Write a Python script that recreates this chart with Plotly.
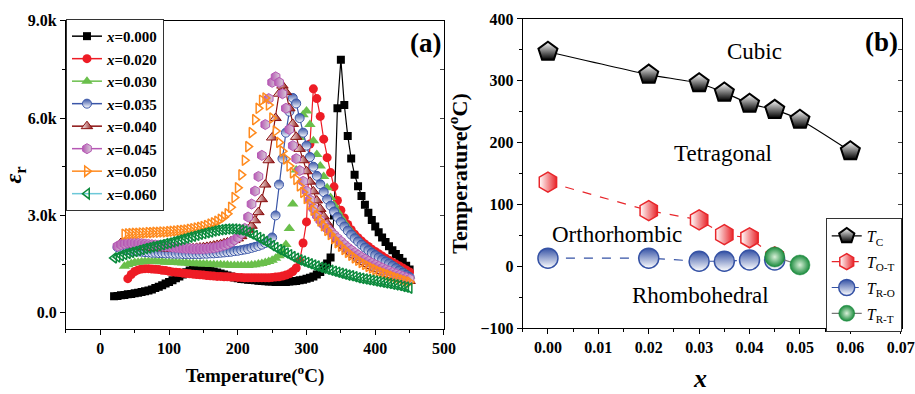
import plotly.graph_objects as go

# ---------------- data: panel (a) ----------------
TEMP = [20, 25, 30, 35, 40, 45, 50, 55, 60, 65, 70, 75, 80, 85, 90, 95, 100, 105, 110, 115,
        120, 125, 130, 135, 140, 145, 150, 155, 160, 165, 170, 175, 180, 185, 190, 195, 200, 205, 210, 215,
        220, 225, 230, 235, 240, 245, 250, 255, 260, 265, 270, 275, 280, 285, 290, 295, 300, 305, 310, 315,
        320, 325, 330, 335, 340, 345, 350, 355, 360, 365, 370, 375, 380, 385, 390, 395, 400, 405, 410, 415,
        420, 425, 430, 435, 440, 445, 450]

EPS_000 = [0.51, 0.52, 0.54, 0.55, 0.57, 0.58, 0.60, 0.62, 0.64, 0.66, 0.69, 0.72, 0.76, 0.80, 0.85, 0.90, 0.95, 1.00, 1.06, 1.12,
           1.18, 1.25, 1.30, 1.34, 1.36, 1.36, 1.35, 1.33, 1.30, 1.27, 1.24, 1.21, 1.18, 1.15, 1.12, 1.09, 1.06, 1.04, 1.03, 1.02,
           1.01, 1.00, 0.99, 0.98, 0.97, 0.96, 0.96, 0.95, 0.95, 0.95, 0.95, 0.96, 0.97, 0.98, 1.00, 1.02, 1.05, 1.08, 1.12, 1.18,
           1.26, 1.37, 1.52, 1.70, 3.00, 6.30, 7.80, 6.40, 5.45, 4.75, 4.25, 3.90, 3.60, 3.33, 3.08, 2.86, 2.66, 2.48, 2.32, 2.18,
           2.05, 1.93, 1.81, 1.69, 1.57, 1.45, 1.33]
EPS_020 = [1.05, 1.18, 1.27, 1.32, 1.35, 1.36, 1.36, 1.35, 1.34, 1.33, 1.31, 1.30, 1.28, 1.26, 1.25, 1.24, 1.22, 1.21, 1.20, 1.19,
           1.18, 1.17, 1.16, 1.15, 1.14, 1.13, 1.12, 1.12, 1.11, 1.11, 1.10, 1.10, 1.09, 1.09, 1.08, 1.08, 1.08, 1.08, 1.08, 1.08,
           1.08, 1.08, 1.09, 1.10, 1.11, 1.13, 1.16, 1.20, 1.27, 1.38, 1.60, 2.15, 2.80, 5.20, 6.90, 6.60, 6.05, 5.35, 4.78, 4.32,
           3.88, 3.46, 3.16, 2.92, 2.72, 2.56, 2.42, 2.31, 2.21, 2.12, 2.04, 1.96, 1.89, 1.82, 1.75, 1.68, 1.62, 1.56, 1.50, 1.44,
           1.38, 1.32, 1.26]
EPS_030 = [1.43, 1.48, 1.52, 1.55, 1.56, 1.57, 1.58, 1.58, 1.58, 1.58, 1.57, 1.57, 1.56, 1.56, 1.55, 1.55, 1.54, 1.53, 1.53, 1.52,
           1.52, 1.51, 1.51, 1.50, 1.50, 1.49, 1.49, 1.48, 1.48, 1.47, 1.47, 1.46, 1.46, 1.46, 1.46, 1.46, 1.46, 1.47, 1.48, 1.50,
           1.52, 1.55, 1.58, 1.62, 1.68, 1.76, 1.88, 2.10, 2.60, 3.35, 4.40, 5.40, 6.10, 6.22, 5.80, 5.30, 4.88, 4.52, 4.20, 3.85,
           3.55, 3.32, 3.12, 2.94, 2.78, 2.63, 2.50, 2.37, 2.26, 2.15, 2.05, 1.96, 1.88, 1.80, 1.73, 1.66, 1.60, 1.54, 1.48, 1.42,
           1.35, 1.28, 1.21, 1.13]
EPS_035 = [2.02, 1.98, 1.95, 1.93, 1.91, 1.90, 1.89, 1.88, 1.87, 1.86, 1.85, 1.85, 1.84, 1.84, 1.83, 1.83, 1.82, 1.82, 1.82, 1.81,
           1.81, 1.81, 1.81, 1.81, 1.81, 1.82, 1.82, 1.83, 1.83, 1.84, 1.85, 1.86, 1.87, 1.88, 1.90, 1.91, 1.93, 1.95, 1.97, 2.00,
           2.03, 2.06, 2.10, 2.15, 2.22, 2.32, 3.00, 3.95, 4.75, 5.55, 6.20, 6.62, 6.45, 6.00, 5.55, 5.15, 4.80, 4.50, 4.22, 3.96,
           3.72, 3.50, 3.30, 3.12, 2.95, 2.80, 2.66, 2.53, 2.41, 2.30, 2.20, 2.10, 2.01, 1.93, 1.85, 1.78, 1.71, 1.64, 1.58, 1.52,
           1.45, 1.38, 1.31, 1.24, 1.17, 1.10]
EPS_040 = [2.15, 2.13, 2.11, 2.09, 2.07, 2.05, 2.04, 2.03, 2.02, 2.01, 2.00, 2.00, 1.99, 1.99, 1.98, 1.98, 1.98, 1.98, 1.98, 1.98,
           1.99, 1.99, 2.00, 2.01, 2.02, 2.03, 2.05, 2.07, 2.09, 2.11, 2.14, 2.17, 2.20, 2.24, 2.29, 2.36, 2.45, 2.56, 2.68, 2.85,
           3.10, 3.50, 3.95, 4.70, 5.40, 6.00, 6.75, 7.00, 6.80, 6.30, 5.82, 5.42, 5.05, 4.70, 4.36, 4.04, 3.74, 3.46, 3.20, 2.97,
           2.76, 2.58, 2.42, 2.28, 2.16, 2.05, 1.95, 1.86, 1.77, 1.70, 1.63, 1.56, 1.50, 1.44, 1.39, 1.34, 1.29, 1.24, 1.20, 1.16,
           1.12, 1.08, 1.04, 1.01, 0.98]
EPS_045 = [2.05, 2.10, 2.13, 2.15, 2.15, 2.15, 2.14, 2.13, 2.12, 2.11, 2.10, 2.09, 2.08, 2.06, 2.05, 2.04, 2.02, 2.01, 2.00, 1.99,
           1.98, 1.98, 1.97, 1.97, 1.97, 1.97, 1.98, 1.99, 2.00, 2.02, 2.05, 2.08, 2.12, 2.17, 2.24, 2.32, 2.44, 2.60, 2.95, 3.35,
           3.75, 4.20, 4.85, 5.80, 6.60, 7.10, 7.27, 7.10, 6.75, 6.30, 5.65, 5.15, 4.75, 4.38, 4.05, 3.75, 3.48, 3.22, 3.00, 2.85,
           2.72, 2.60, 2.50, 2.40, 2.30, 2.20, 2.10, 2.01, 1.93, 1.85, 1.78, 1.71, 1.65, 1.59, 1.53, 1.48, 1.43, 1.38, 1.33, 1.29,
           1.24, 1.20, 1.16, 1.12, 1.08, 1.04]
EPS_050 = [2.42, 2.43, 2.44, 2.45, 2.45, 2.46, 2.46, 2.47, 2.47, 2.48, 2.48, 2.49, 2.49, 2.50, 2.51, 2.52, 2.53, 2.54, 2.55, 2.57,
           2.59, 2.61, 2.63, 2.66, 2.69, 2.73, 2.77, 2.82, 2.88, 2.95, 3.05, 3.25, 3.55, 3.85, 4.25, 4.70, 5.12, 5.55, 5.95, 6.30,
           6.55, 6.62, 6.40, 6.00, 5.60, 5.25, 4.98, 4.74, 4.52, 4.31, 4.11, 3.91, 3.71, 3.52, 3.34, 3.16, 2.99, 2.83, 2.68, 2.54,
           2.41, 2.28, 2.16, 2.05, 1.95, 1.86, 1.77, 1.69, 1.62, 1.55, 1.49, 1.43, 1.38, 1.33, 1.28, 1.24, 1.20, 1.16, 1.12, 1.08,
           1.05, 1.01, 0.98, 0.95]
EPS_060 = [1.69, 1.72, 1.76, 1.80, 1.83, 1.86, 1.89, 1.92, 1.95, 1.98, 2.00, 2.03, 2.05, 2.08, 2.10, 2.13, 2.15, 2.18, 2.21, 2.24,
           2.27, 2.30, 2.33, 2.36, 2.39, 2.42, 2.44, 2.47, 2.49, 2.52, 2.54, 2.56, 2.57, 2.58, 2.58, 2.58, 2.57, 2.55, 2.52, 2.48,
           2.43, 2.38, 2.32, 2.26, 2.20, 2.14, 2.07, 2.01, 1.95, 1.90, 1.84, 1.79, 1.73, 1.68, 1.63, 1.59, 1.55, 1.51, 1.47, 1.44,
           1.40, 1.37, 1.34, 1.31, 1.28, 1.25, 1.22, 1.19, 1.16, 1.14, 1.11, 1.08, 1.06, 1.04, 1.02, 1.00, 0.98, 0.96, 0.94, 0.92,
           0.90, 0.88, 0.86, 0.84, 0.81, 0.79, 0.76]

EPS_TICKVALS = [0, 3, 6, 9]
EPS_TICKTEXT = ["0.0", "3.0k", "6.0k", "9.0k"]

# ---------------- data: panel (b) ----------------
X_TC = [0.0, 0.02, 0.03, 0.035, 0.04, 0.045, 0.05, 0.06]
Y_TC = [347, 310, 296, 281, 263, 253, 237, 186]
X_TOT = [0.0, 0.02, 0.03, 0.035, 0.04, 0.045]
Y_TOT = [136, 90, 75, 51, 46, 15]
X_TRO = [0.0, 0.02, 0.03, 0.035, 0.04, 0.045]
Y_TRO = [13, 13, 8, 8, 10, 10]
X_TRT = [0.045, 0.05]
Y_TRT = [15, 2]
X_TICKVALS = [0.0, 0.01, 0.02, 0.03, 0.04, 0.05, 0.06, 0.07]
X_TICKTEXT = ["0.00", "0.01", "0.02", "0.03", "0.04", "0.05", "0.06", "0.07"]

SERIF = "Liberation Serif, Times New Roman, serif"

fig = go.Figure()

series = [
    ("0.000", EPS_000, dict(symbol="square", color="#000000", size=8), "#000000", True),
    ("0.020", EPS_020, dict(symbol="circle", color="#ee1c25", size=9), "#ee1c25", True),
    ("0.030", EPS_030, dict(symbol="triangle-up", color="#6abf4b", size=10), "#6abf4b", False),
    ("0.035", EPS_035, dict(symbol="circle", color="#3a56a8", size=9,
                            gradient=dict(type="vertical", color="#ffffff"),
                            line=dict(color="#3a56a8", width=1)), "#3a56a8", True),
    ("0.040", EPS_040, dict(symbol="triangle-up", color="#ffffff", size=10,
                            gradient=dict(type="horizontal", color="#8b1010"),
                            line=dict(color="#8b1010", width=1)), "#8b1010", True),
    ("0.045", EPS_045, dict(symbol="hexagon", color="#b658b4", size=10,
                            gradient=dict(type="horizontal", color="#d8d0d8"),
                            line=dict(color="#b658b4", width=1)), "#b658b4", False),
    ("0.050", EPS_050, dict(symbol="triangle-right-open", color="#ff8a1e", size=9,
                            line=dict(width=1.5)), "#ff8a1e", False),
    ("0.060", EPS_060, dict(symbol="triangle-left-open", color="#0b8a3c", size=9,
                            line=dict(width=1.5)), "#6cc8d8", False),
]

for name, vals, mk, lcol, with_line in series:
    temps = TEMP[len(TEMP) - len(vals):]
    fig.add_trace(go.Scatter(
        x=temps, y=vals, xaxis="x", yaxis="y",
        mode="lines+markers" if with_line else "markers",
        marker=mk, line=dict(color=lcol, width=1.2),
        showlegend=False, hoverinfo="skip"))
    fig.add_trace(go.Scatter(
        x=[None], y=[None], xaxis="x", yaxis="y",
        mode="lines+markers", marker=mk, line=dict(color=lcol, width=1.5),
        name="<i>x</i>=" + name, legend="legend", showlegend=True))

# panel (b)
fig.add_trace(go.Scatter(
    x=X_TC, y=Y_TC, xaxis="x2", yaxis="y2", mode="lines+markers",
    line=dict(color="#000000", width=1.2, shape="spline", smoothing=0.6),
    marker=dict(symbol="pentagon", size=20, color="#ffffff",
                gradient=dict(type="vertical", color="#000000"),
                line=dict(color="#000000", width=2)),
    name="<i>T</i><sub>C</sub>", legend="legend2", legendgroup="a"))
fig.add_trace(go.Scatter(
    x=X_TOT, y=Y_TOT, xaxis="x2", yaxis="y2", mode="lines+markers",
    line=dict(color="#e8262b", width=1.2, dash="dash"),
    marker=dict(symbol="hexagon", size=20, color="#ffffff",
                gradient=dict(type="horizontal", color="#e8262b"),
                line=dict(color="#e8262b", width=1.5)),
    name="<i>T</i><sub>O-T</sub>", legend="legend2", legendgroup="b"))
fig.add_trace(go.Scatter(
    x=X_TRO, y=Y_TRO, xaxis="x2", yaxis="y2", mode="lines+markers",
    line=dict(color="#3552a5", width=1.2, dash="dash"),
    marker=dict(symbol="circle", size=20, color="#3552a5",
                gradient=dict(type="vertical", color="#ffffff"),
                line=dict(color="#3552a5", width=1.5)),
    name="<i>T</i><sub>R-O</sub>", legend="legend2", legendgroup="c"))
fig.add_trace(go.Scatter(
    x=X_TRT, y=Y_TRT, xaxis="x2", yaxis="y2", mode="lines+markers",
    line=dict(color="#777777", width=1.2),
    marker=dict(symbol="circle", size=20, color="#17893a",
                gradient=dict(type="radial", color="#d8f0d8"),
                line=dict(color="#17893a", width=0.5)),
    name="<i>T</i><sub>R-T</sub>", legend="legend2", legendgroup="d"))

tickfont = dict(family=SERIF, size=16, color="#000000", weight="bold")
axis_common = dict(showline=True, linecolor="#000000", linewidth=1, mirror=True,
                   ticks="outside", ticklen=5, tickcolor="#000000", showgrid=False,
                   zeroline=False, tickfont=tickfont, automargin=False)

fig.update_layout(
    width=915, height=394, margin=dict(l=0, r=0, t=0, b=0, autoexpand=False),
    paper_bgcolor="#ffffff", plot_bgcolor="#ffffff",
    font=dict(family=SERIF, color="#000000"),
    xaxis=dict(domain=[0.0721, 0.4852], range=[-50, 500], anchor="y", dtick=100,
               minor=dict(dtick=50, ticks="outside", ticklen=3, tickcolor="#000000"),
               title=dict(text="Temperature(<sup>o</sup>C)", standoff=12,
                          font=dict(family=SERIF, size=19, weight="bold")),
               **axis_common),
    yaxis=dict(domain=[0.165, 0.9475], range=[-0.5, 9], anchor="x",
               tickmode="array", tickvals=EPS_TICKVALS, ticktext=EPS_TICKTEXT,
               minor=dict(tickmode="linear", tick0=0, dtick=1.5, ticks="outside", ticklen=3, tickcolor="#000000"),
               title=dict(text="<i>ε</i><sub>r</sub>", standoff=6,
                          font=dict(family=SERIF, size=24, weight="bold")),
               **axis_common),
    xaxis2=dict(domain=[0.5713, 0.9855], range=[-0.005, 0.0702], anchor="y2",
                tickmode="array", tickvals=X_TICKVALS, ticktext=X_TICKTEXT,
                minor=dict(tickmode="linear", tick0=0, dtick=0.005, ticks="outside", ticklen=3, tickcolor="#000000"),
                **axis_common),
    yaxis2=dict(domain=[0.1675, 0.9518], range=[-100, 400], anchor="x2", dtick=100,
                minor=dict(dtick=50, ticks="outside", ticklen=3, tickcolor="#000000"),
                title=dict(text="Temperature(<sup>o</sup>C)", standoff=6,
                           font=dict(family=SERIF, size=22, weight="bold")),
                **axis_common),
    yaxis3=dict(overlaying="y", side="right", anchor="x", range=[-0.5, 9],
                tickmode="linear", tick0=0, dtick=1.5, ticks="inside", ticklen=4,
                showticklabels=False, showgrid=False, zeroline=False, showline=False,
                automargin=False),
    yaxis4=dict(overlaying="y2", side="right", anchor="x2", range=[-100, 400],
                tickmode="linear", tick0=0, dtick=50, ticks="inside", ticklen=4,
                showticklabels=False, showgrid=False, zeroline=False, showline=False,
                automargin=False),
    legend=dict(x=0.0721, y=0.952, xanchor="left", yanchor="top",
                bgcolor="#ffffff", bordercolor="#333333", borderwidth=1,
                font=dict(family=SERIF, size=15, weight="bold", color="#000000"),
                tracegroupgap=0),
    legend2=dict(x=0.9855, y=0.4467, xanchor="right", yanchor="top",
                 bgcolor="#ffffff", bordercolor="#333333", borderwidth=1,
                 font=dict(family=SERIF, size=16, color="#000000"),
                 tracegroupgap=2, itemwidth=30),
    annotations=[
        dict(text="<b>(a)</b>", xref="paper", yref="paper", x=0.484, y=0.891,
             xanchor="right", yanchor="middle", showarrow=False,
             font=dict(family=SERIF, size=27)),
        dict(text="<b>(b)</b>", xref="paper", yref="paper", x=0.984, y=0.894,
             xanchor="right", yanchor="middle", showarrow=False,
             font=dict(family=SERIF, size=27)),
        dict(text="<b><i>x</i></b>", xref="paper", yref="paper", x=0.765, y=0.0,
             xanchor="center", yanchor="bottom", showarrow=False, borderpad=0,
             font=dict(family=SERIF, size=26)),
        dict(text="Cubic", xref="x2", yref="y2", x=0.0409, y=347, showarrow=False,
             font=dict(family=SERIF, size=23)),
        dict(text="Tetragonal", xref="x2", yref="y2", x=0.0347, y=182, showarrow=False,
             font=dict(family=SERIF, size=23)),
        dict(text="Orthorhombic", xref="x2", yref="y2", x=0.0137, y=51, showarrow=False,
             font=dict(family=SERIF, size=23)),
        dict(text="Rhombohedral", xref="x2", yref="y2", x=0.0303, y=-47, showarrow=False,
             font=dict(family=SERIF, size=23)),
    ],
)

# dummy traces to activate the inside-tick overlay axes
fig.add_trace(go.Scatter(x=[None], y=[None], xaxis="x", yaxis="y3", showlegend=False))
fig.add_trace(go.Scatter(x=[None], y=[None], xaxis="x2", yaxis="y4", showlegend=False))

fig.write_html("out.html")
